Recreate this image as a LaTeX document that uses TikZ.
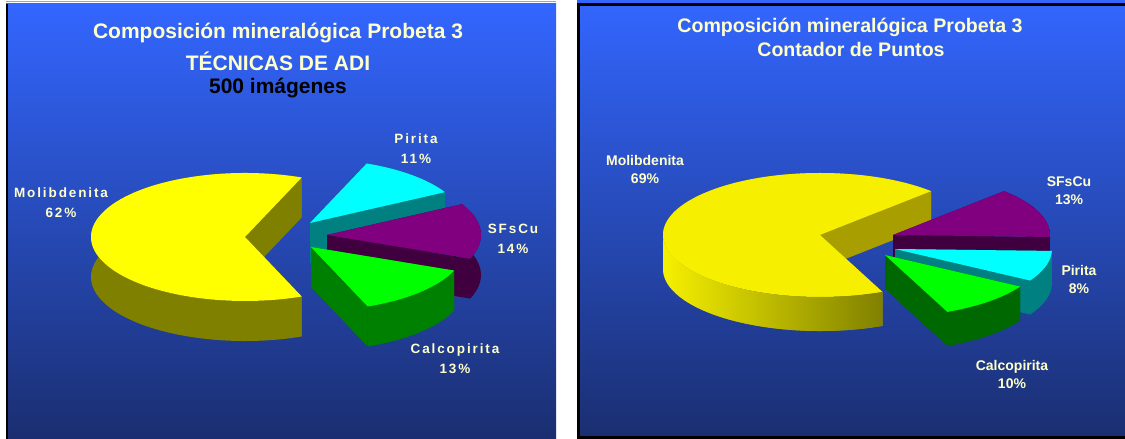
\documentclass[tikz,border=0pt]{standalone}
\usepackage{fontspec}
\setmainfont{Liberation Sans}
\newfontfamily\spacedfont[LetterSpace=14]{Liberation Sans}
\usetikzlibrary{positioning}

\definecolor{labelyellow}{RGB}{255,255,204}
\definecolor{bgtop}{RGB}{51,102,255}
\definecolor{bgmid}{RGB}{38,76,192}
\definecolor{bgbottom}{RGB}{26,46,112}
\definecolor{moTop}{RGB}{255,255,0}
\definecolor{moSide}{RGB}{128,128,0}
\definecolor{moTopR}{RGB}{246,240,0}
\definecolor{moCutR}{RGB}{168,158,0}
\definecolor{piTop}{RGB}{0,255,255}
\definecolor{piSide}{RGB}{0,128,128}
\definecolor{sfTop}{RGB}{128,0,128}
\definecolor{sfSide}{RGB}{64,0,64}
\definecolor{caTop}{RGB}{0,255,0}
\definecolor{caSide}{RGB}{0,128,0}
\definecolor{caSideR}{RGB}{0,104,0}

% one exploded 3D slice: apex, start angle, end angle, top colour, side colour
\newcommand{\pieslice}[5]{%
  \fill[#5] (#1) -- ++(#2:\pierx pt and \piery pt) -- ++(0,-\pieh) -- ++(#2+180:\pierx pt and \piery pt) -- cycle;
  \fill[#5] (#1) -- ++(#3:\pierx pt and \piery pt) -- ++(0,-\pieh) -- ++(#3+180:\pierx pt and \piery pt) -- cycle;
  \fill[#5] (#1) ++(#2:\pierx pt and \piery pt) arc[start angle=#2, end angle=#3, x radius=\pierx, y radius=\piery]
    -- ++(0,-\pieh) arc[start angle=#3, end angle=#2, x radius=\pierx, y radius=\piery] -- cycle;
  \fill[#4] (#1) -- ++(#2:\pierx pt and \piery pt) arc[start angle=#2, end angle=#3, x radius=\pierx, y radius=\piery] -- cycle;
}

\begin{document}
\begin{tikzpicture}[x=1pt,y=1pt,
  title/.style={font=\fontsize{21}{25}\selectfont\bfseries, text=labelyellow},
  titleR/.style={font=\fontsize{19.6}{23}\selectfont\bfseries, text=labelyellow},
  lab/.style={font=\spacedfont\fontsize{13.5}{20}\selectfont\bfseries, text=labelyellow, align=center},
  labR/.style={font=\fontsize{14}{18}\selectfont\bfseries, text=labelyellow, align=center}]
\useasboundingbox (0,0) rectangle (1125,439);
\fill[white] (0,0) rectangle (1125,439);
%Panels:
\shade[top color=bgtop, middle color=bgmid, bottom color=bgbottom] (6,0) rectangle (556,435);
\draw[black, line width=1.5pt] (6.75,0) -- (6.75,435);
\draw[black!35, line width=1.5pt] (6,437.5) -- (556,437.5);
\shade[top color=bgtop, middle color=bgmid, bottom color=bgbottom] (577,0) rectangle (1125,439);
\draw[black, line width=3pt] (1125,434.5) -- (578.5,434.5) -- (578.5,1.5) -- (1125,1.5);

%Titles:
\node (t1L) [title] at (278,406) {Composición mineralógica Probeta 3};
\node (t2L) [title] at (278,378) {TÉCNICAS DE ADI};
\node (t3L) [title, text=black] at (278,351) {500 imágenes};
\node (t1R) [titleR] at (850,412) {Composición mineralógica Probeta 3};
\node (t2R) [titleR] at (851,390) {Contador de Puntos};

%Left pie:
\def\pierx{154}\def\piery{64}\def\pieh{40}
\coordinate (moL) at (245,202);
\coordinate (piL) at (310,216);
\coordinate (sfL) at (327,204);
\coordinate (caL) at (311,192);
\pieslice{moL}{68.4}{291.6}{moTop}{moSide}
\pieslice{piL}{28.8}{68.4}{piTop}{piSide}
\pieslice{sfL}{-21.6}{28.8}{sfTop}{sfSide}
\pieslice{caL}{-68.4}{-21.6}{caTop}{caSide}

%Right pie:
\def\pierx{157}\def\piery{62}\def\pieh{34}
\coordinate (moR) at (820,204);
\coordinate (sfR) at (893,204);
\coordinate (piR) at (895,190);
\coordinate (caR) at (885,184);
\pieslice{moR}{45}{293.4}{moTopR}{moCutR}
\shade[left color=moTopR, right color=moSide] (moR) ++(180:\pierx pt and \piery pt)
  arc[start angle=180, end angle=293.4, x radius=\pierx, y radius=\piery]
  -- ++(0,-\pieh) arc[start angle=293.4, end angle=180, x radius=\pierx, y radius=\piery] -- cycle;
\pieslice{sfR}{-1.8}{45}{sfTop}{sfSide}
\pieslice{piR}{-30.6}{-1.8}{piTop}{piSide}
\pieslice{caR}{-66.6}{-30.6}{caTop}{caSideR}

%Labels:
\node (moLab) [lab] at (61,236) {Molibdenita\\62\%};
\node (piLab) [lab] at (416,290) {Pirita\\11\%};
\node (sfLab) [lab] at (513,200) {SFsCu\\14\%};
\node (caLab) [lab] at (455,80) {Calcopirita\\13\%};
\node (moLabR) [labR] at (645,269) {Molibdenita\\69\%};
\node (sfLabR) [labR] at (1069,248) {SFsCu\\13\%};
\node (piLabR) [labR] at (1079,160) {Pirita\\8\%};
\node (caLabR) [labR] at (1012,65) {Calcopirita\\10\%};
\end{tikzpicture}
\end{document}
